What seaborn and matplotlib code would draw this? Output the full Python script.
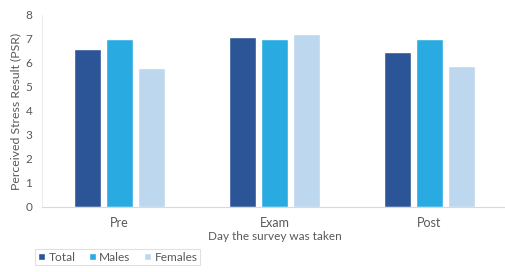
import pandas as pd
import seaborn as sns
import matplotlib
matplotlib.use("Agg")
import matplotlib.pyplot as plt

days = ["Pre", "Exam", "Post"]
groups = ["Total", "Males", "Females"]
total = [6.57, 7.1, 6.45]
males = [7.0, 7.0, 7.0]
females = [5.79, 7.2, 5.89]
palette = ["#2B5597", "#29ABE2", "#BDD7EE"]

df = pd.DataFrame({
    "Day": days * 3,
    "Group": [g for g in groups for _ in days],
    "PSR": total + males + females,
})

sns.set_style("white")
plt.rcParams["font.family"] = ["Lato", "DejaVu Sans"]

fig = plt.figure(figsize=(5.05, 2.72), dpi=100)
ax = fig.add_axes([0.083, 0.239, 0.921, 0.706])
sns.barplot(data=df, x="Day", y="PSR", hue="Group", order=days, hue_order=groups,
            palette=palette, width=0.62, gap=0.14, saturation=1, ax=ax, legend=True)

ax.set_xlim(-0.5, 2.5)
ax.set_ylim(0, 8)
ax.set_yticks(range(0, 9))
ax.tick_params(axis="y", labelsize=8.5, colors="#595959", length=0, pad=7)
ax.tick_params(axis="x", labelsize=9, colors="#595959", length=0, pad=7)
ax.set_ylabel("Perceived Stress Result (PSR)", fontsize=8.8, color="#595959", labelpad=3)
ax.set_xlabel("Day the survey was taken", fontsize=8.5, color="#595959", labelpad=1.5)
for side in ["top", "right"]:
    ax.spines[side].set_visible(False)
ax.spines["left"].set_color("#EEEEEE")
ax.spines["bottom"].set_color("#D9D9D9")

handles, labels = ax.get_legend_handles_labels()
ax.get_legend().remove()
leg = fig.legend(handles, labels, loc="lower left", bbox_to_anchor=(0.058, 0.003), ncol=3,
                 fontsize=8.6, frameon=True, fancybox=False, edgecolor="#D9D9D9",
                 handlelength=0.6, handleheight=0.6, handletextpad=0.3, columnspacing=1.1,
                 borderpad=0.2, labelcolor="#595959")
leg.get_frame().set_linewidth(0.8)

fig.savefig("out.png", dpi=100)
